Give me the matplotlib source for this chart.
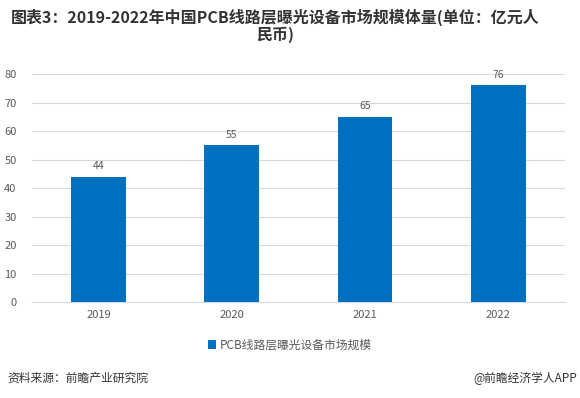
import matplotlib.pyplot as plt

plt.rcParams['font.family'] = ['Noto Sans CJK SC', 'DejaVu Sans']

# === DADOS ===
anos = ['2019', '2020', '2021', '2022']
valores = [44, 55, 65, 76]
y_ticks = [0, 10, 20, 30, 40, 50, 60, 70, 80]

titulo = '图表3：2019-2022年中国PCB线路层曝光设备市场规模体量(单位：亿元人\n民币)'
legenda = 'PCB线路层曝光设备市场规模'
fonte = '资料来源：前瞻产业研究院'
marca = '@前瞻经济学人APP'

cor_barra = '#0070C0'
cor_texto = '#595959'

fig = plt.figure(figsize=(5.8, 3.98), dpi=100)
ax = fig.add_axes([0.055, 0.241, 0.919, 0.573])

x = range(len(anos))
barras = ax.bar(x, valores, width=0.41, color=cor_barra, zorder=3, label=legenda)
for xi, v in zip(x, valores):
    ax.text(xi, v + 2, str(v), ha='center', va='bottom', fontsize=7.5, color=cor_texto)

ax.set_ylim(0, 80)
ax.set_xlim(-0.5, len(anos) - 0.5)
ax.set_yticks(y_ticks)
ax.set_xticks(list(x))
ax.set_xticklabels(anos)
ax.tick_params(axis='both', length=0, labelsize=8, labelcolor=cor_texto)
ax.tick_params(axis='y', pad=11)
ax.tick_params(axis='x', pad=6)
ax.grid(axis='y', color='#D9D9D9', linewidth=0.8, zorder=0)
for s in ['top', 'right', 'left']:
    ax.spines[s].set_visible(False)
ax.spines['bottom'].set_color('#D9D9D9')

# legenda
fig.legend(handles=[barras], labels=[legenda], loc='center', bbox_to_anchor=(0.5, 0.133),
           frameon=False, fontsize=8.5, handlelength=0.7, handleheight=0.7, handletextpad=0.3,
           labelcolor=cor_texto)

# título e rodapé
fig.text(0.475, 0.935, titulo, ha='center', va='center', fontsize=11.5, fontweight='bold',
         color='#333333', linespacing=1.05)
fig.text(0.012, 0.05, fonte, ha='left', va='center', fontsize=8.5, color='#333333')
fig.text(0.995, 0.05, marca, ha='right', va='center', fontsize=8.5, color='#333333')

fig.savefig('out.png', dpi=100)
